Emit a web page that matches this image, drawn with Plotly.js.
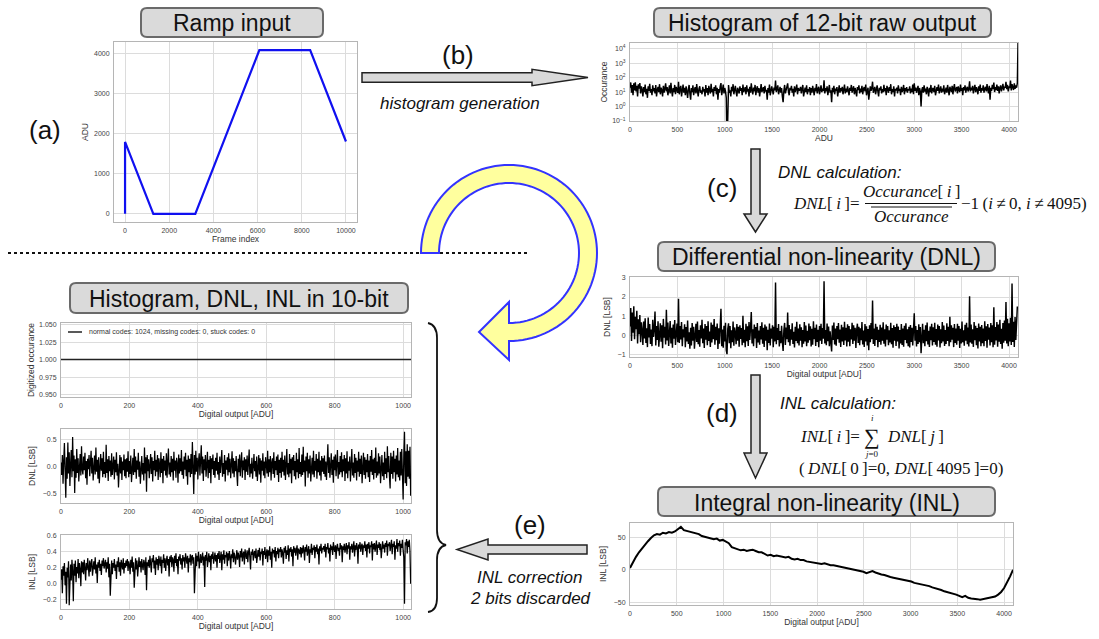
<!DOCTYPE html>
<html>
<head>
<meta charset="utf-8">
<script src="https://cdn.plot.ly/plotly-3.0.1.min.js"></script>
<style>
  html, body { margin: 0; padding: 0; background: #fff; }
  #fig { width: 1099px; height: 639px; }
</style>
</head>
<body>
<div id="fig"></div>
<script>
const W = 1099, H = 639;

// ---- (a) ramp input: frame index -> ADU (corner points of the ramp)
const rampFrames = [0, 0, 1280, 3180, 6080, 8380, 10000];
const rampADU    = [0, 1800, 0, 0, 4095, 4095, 1810];

// ---- (b) histogram of 12-bit raw output, one count every HIST12_STEP codes
const HIST12_STEP = 8;
const hist12Counts = [
  20,46,9,31,6,40,13,48,11,27,5,35,17,42,8,25,
  14,5,22,10,33,7,17,4,25,12,37,9,16,6,29,11,
  19,8,31,5,14,23,10,35,7,20,13,5,27,9,17,40,
  11,22,6,16,29,8,44,12,5,19,10,31,7,23,14,9,
  52,7,17,27,5,13,33,9,20,6,25,11,4,16,31,8,
  3,19,10,29,6,14,22,8,35,12,5,17,25,9,13,7,
  23,11,16,5,31,9,19,6,27,13,8,37,10,17,5,22,
  12,29,7,20,3,16,9,25,42,6,14,33,8,19,11,4,
  0,17,31,9,13,5,23,11,35,7,16,27,10,5,20,14,
  8,25,12,19,6,33,10,14,22,7,29,11,17,5,23,9,
  40,13,7,20,11,31,6,16,25,9,19,5,13,35,10,17,
  22,8,27,11,14,3,19,9,33,6,16,25,12,7,20,13,
  63,10,17,29,7,14,23,9,19,5,2,12,31,8,16,22,
  40,11,6,20,13,27,9,17,5,25,10,16,33,7,19,12,
  14,23,8,17,31,5,13,20,10,29,7,16,11,22,6,19,
  9,27,13,6,20,11,35,8,16,23,7,14,29,10,17,12,
  66,8,19,11,25,6,16,31,9,13,2,20,10,27,7,17,
  12,22,5,16,29,9,19,11,23,7,14,33,8,17,10,25,
  13,6,20,12,31,9,16,25,7,19,11,5,22,14,29,8,
  17,10,27,7,16,22,11,33,6,13,20,3,9,25,12,19,
  52,9,14,23,7,17,29,11,5,20,13,25,8,16,10,31,
  11,19,6,27,14,9,22,12,35,7,16,10,25,5,17,13,
  20,8,29,12,17,6,23,10,14,31,7,19,11,22,9,16,
  13,25,8,17,10,33,7,40,12,20,9,16,27,6,19,11,
  1,14,22,9,29,11,17,7,23,13,5,20,10,31,8,16,
  19,10,27,6,16,22,12,33,8,14,25,9,17,11,29,7,
  12,20,9,31,13,6,23,16,10,27,7,19,35,11,14,22,
  8,25,14,10,33,12,19,6,22,13,29,9,17,23,11,16,
  55,11,20,13,27,8,17,31,10,22,14,7,25,12,33,9,
  19,13,29,9,17,23,11,35,14,8,27,3,20,12,31,16,
  45,10,22,14,33,12,25,8,19,29,11,17,37,13,23,20,
  50,16,31,11,25,19,62,13,35,22,14,40,17,29,20,42
];
const hist12TopCode  = 4095;   // saturated code
const hist12TopCount = 26000;

// ---- (c) DNL of the 12-bit output [LSB], one value every DNL12_STEP codes
const DNL12_STEP = 8;
const dnl12 = [
  .45,1.42,-.31,1.18,.12,1.51,-.22,.96,.31,1.28,-.44,.83,.05,1.05,-.38,.67,
  .24,-.52,.71,-.18,.88,-.41,.36,-.63,.92,-.12,.58,-.47,.29,-.58,.81,-.09,
  .34,1.24,-.55,.47,-.26,.73,-.61,.18,.62,-.35,.51,-.69,.85,-.14,.43,-.49,
  1.33,-.28,.66,-.57,.21,.74,-.44,.39,-.66,.55,-.19,.79,-.52,.27,.61,-.37,
  1.91,-.41,.48,-.23,.69,-.58,.31,-.12,.57,-.64,.42,-.33,.76,-.47,.15,-.71,
  .38,-.55,.63,-.29,.44,-.72,.22,.59,-.36,.71,-.48,.26,-.61,.52,-.18,.81,
  -.43,.35,-.67,.58,-.24,.47,-.53,.73,-.31,.19,-.62,.66,-.39,.54,-.21,.84,
  -.5,.43,-.27,.61,-.73,.36,-.45,.57,1.38,-.58,.29,-.66,.49,-.34,.65,-.81,
  -1,.33,.62,-.42,.47,-.69,.25,-.37,.71,-.56,.4,.13,-.48,.58,-.29,.44,
  -.61,.52,-.2,.37,-.53,1.02,-.4,.28,-.64,.59,-.32,.46,-.57,.69,-.26,.35,
  1.21,-.44,.31,-.59,.55,-.17,.42,-.68,.63,-.38,.24,-.51,.48,-.23,.67,-.45,
  .39,-.62,.56,-.3,.45,-.79,.28,-.41,.61,-.55,.34,-.19,.52,-.64,.43,-.33,
  2.76,-.48,.37,-.26,.58,-.6,.21,-.43,.49,-.35,-.83,.27,.64,-.52,.4,-.21,
  1.19,-.37,.53,-.56,.3,-.24,.62,-.47,.18,-.65,.44,-.31,.7,-.42,.35,-.54,
  .57,-.29,.41,-.63,.26,-.45,.68,-.34,.5,-.58,.22,-.4,.61,-.27,.46,-.6,
  .33,-.51,.72,-.22,.39,-.57,.55,-.36,.28,-.64,.47,-.3,.59,-.46,.37,-.19,
  2.83,-.44,.26,-.53,.61,-.32,.45,-.59,.2,-.38,-.86,.5,-.25,.66,-.49,.34,
  -.56,.47,-.21,.63,-.4,.29,-.62,.54,-.33,.41,-.52,.7,-.28,.38,-.6,.57,
  -.35,.48,-.58,.31,-.23,.64,-.46,.52,-.3,.39,-.67,.27,.6,-.41,.44,-.53,
  .36,-.27,.69,-.49,.24,-.62,.58,-.34,.46,-.55,.32,-.8,.51,-.38,.63,-.22,
  1.82,-.47,.35,-.57,.6,-.26,.43,-.64,.28,-.36,.54,-.51,.4,-.3,.67,-.45,
  .31,-.6,.56,-.24,.47,-.53,.25,-.39,.65,-.48,.37,-.66,.52,-.29,.42,-.57,
  .6,-.33,.45,-.7,.27,-.44,.58,-.52,.34,-.61,.49,-.25,.62,-.42,.3,-.58,
  .44,-.65,.53,-.36,.39,-.55,.71,1.14,-.3,.48,-.6,.26,-.47,.57,-.38,.42,
  -.95,.36,.59,-.43,.28,-.58,.51,-.32,.66,-.49,.23,-.62,.45,-.27,.6,-.54,
  .41,-.36,.64,-.5,.32,-.61,.55,-.28,.47,-.65,.3,-.42,.68,-.33,.5,-.57,
  .27,-.46,.62,-.31,.43,-.59,.96,-.37,.52,-.24,.39,-.63,.58,-.41,.35,-.5,
  .6,-.29,.47,-.67,.33,-.44,.71,-.38,.25,-.56,.54,-.3,.65,-.48,.4,-.6,
  2.04,-.39,.56,-.45,.3,-.62,.68,-.27,.49,-.53,.37,-.7,.61,-.34,.44,-.58,
  .53,-.42,.35,-.59,.72,-.31,.46,-.66,.58,-.24,.4,-.55,.63,-.37,.51,-.64,
  1.46,-.5,.42,-.28,.69,-.61,.55,-.35,.8,-.47,.33,-.72,.64,-.4,.77,-.3,
  1.74,-.44,.86,-.58,.62,-.33,.91,-.52,2.71,-.36,.7,-.62,.95,-.25,.58,1.5
];

// ---- (d) INL of the 12-bit output [LSB], one value every INL12_STEP codes
const INL12_STEP = 32;
const inl12 = [
  3,12,20,27,33,38,44,49,53,55,54,57,56,58,57,59,
  63,66,61,60,59,57,56,55,52,51,50,49,47,48,45,46,
  44,41,35,33,32,30,31,29,30,31,29,27,27,24,22,23,
  21,22,21,20,19,20,17,16,17,15,15,13,12,11,11,10,
  9,10,8,7,7,6,5,4,3,3,1,0,-1,-2,-3,-5,
  -4,-2,-4,-6,-7,-8,-10,-11,-12,-13,-14,-14,-16,-17,-18,-20,
  -21,-21,-22,-24,-25,-27,-28,-30,-31,-33,-34,-36,-37,-38,-40,-42,
  -40,-43,-44,-44,-45,-46,-45,-45,-44,-43,-41,-38,-34,-28,-20,-10
];
const inl12LastCode = 4095, inl12LastValue = 0;

// ---- (e) 10-bit result after INL correction
const normalCodes = 1024, missingCodes = 0, stuckCodes = 0;
const digitizedOccurance = 1;   // every 10-bit code hit exactly once

const DNL10_STEP = 2;
const dnl10 = [
  .08,-.15,.22,-.31,.12,.44,-.09,-.57,.18,-.22,.45,-.12,.27,-.35,.06,.31,-.19,.55,-.08,.21,-.48,.14,-.2,.33,-.11,.16,-.27,.09,.24,-.16,.38,-.05,
  -.14,.19,-.06,.26,-.21,.11,-.33,.15,-.04,.22,-.17,.08,.3,-.12,.17,-.25,.05,.21,-.14,.36,-.09,.13,-.22,.18,-.3,.1,.24,-.07,.16,-.19,.28,-.13,
  .09,-.2,.41,-.11,.14,-.26,.2,-.08,.12,-.18,.25,-.15,.07,.19,-.23,.13,-.1,.27,-.16,.06,-.38,.15,.22,-.12,.18,-.24,.1,-.06,.23,-.17,.14,-.21,
  .16,-.09,.29,-.19,.11,-.13,.21,-.28,.08,.17,-.15,.33,-.1,.19,-.22,.12,-.05,.26,-.18,.1,-.31,.15,.2,-.14,.07,-.25,.36,-.12,.18,-.46,.22,-.08,
  .14,-.21,.09,.24,-.13,.18,-.27,.11,-.06,.3,-.17,.13,-.09,.22,-.24,.16,.05,-.19,.27,-.11,.15,-.3,.2,-.07,.12,-.16,.25,-.2,.1,.34,-.14,.08,
  -.18,.2,-.1,.15,-.25,.28,-.07,.12,-.2,.17,.06,-.29,.23,-.12,.16,-.08,.31,-.15,.1,-.22,.19,-.05,.26,-.17,.13,-.33,.21,-.1,.15,-.19,.24,-.13,
  .46,.12,-.5,.22,-.14,.3,-.09,.17,-.23,.11,.25,-.16,.08,.4,-.12,.19,-.26,.14,-.06,.22,-.18,.1,.28,-.21,.13,-.11,.2,-.3,.16,-.04,.23,-.15,
  .11,-.2,.17,-.07,.26,-.14,.09,-.24,.19,-.11,.14,.31,-.18,.07,-.13,.22,-.27,.12,-.05,.18,-.16,.25,-.1,.15,-.21,.09,.29,-.12,.16,-.19,.11,-.08,
  .2,-.13,-.35,.15,-.1,.23,-.17,.08,.27,-.2,.12,-.06,.18,-.24,.14,-.09,.21,-.15,.1,.32,-.19,.06,-.12,.17,-.22,.13,.24,-.08,.11,-.18,.19,-.26,
  .09,.22,-.14,.16,-.29,.12,-.07,.25,-.16,.1,-.21,.18,.05,-.12,.3,-.18,.14,-.1,.2,-.25,.08,.16,-.13,.27,-.2,.11,-.06,.19,-.15,.23,-.28,.13,
  -.11,.17,-.2,.28,-.09,.13,-.16,.21,-.24,.1,.33,-.14,.07,-.19,.24,-.12,.15,-.3,.18,-.06,.22,-.17,.11,-.23,.26,-.1,.14,-.21,.35,-.13,.09,-.18,
  .23,-.15,.37,-.1,.12,-.36,.19,-.08,.26,-.2,.14,-.12,.21,-.27,.09,.17,-.14,.3,-.19,.11,-.07,.24,-.22,.15,-.1,.28,-.16,.12,-.25,.2,-.09,.16,
  -.13,.21,-.18,.1,-.24,.15,.42,-.11,.18,-.2,.08,.25,-.15,.13,-.29,.19,-.06,.23,-.17,.12,.31,-.22,.09,-.14,.2,-.1,.27,-.19,.14,-.08,.22,-.26,
  .16,-.12,.29,-.21,.1,-.07,.19,-.27,.14,.33,-.16,.08,-.2,.24,-.11,.17,-.25,.12,-.09,.28,-.18,.15,-.13,.21,-.3,.11,.26,-.15,.18,-.22,.13,-.1,
  .24,-.19,.12,-.28,.2,-.09,.31,-.15,.14,-.23,.17,-.11,.36,-.2,.1,-.16,.25,-.12,.19,-.3,.13,.22,-.17,.08,-.24,.28,-.13,.16,-.21,.38,-.1,.2,
  -.17,-.4,.26,-.13,.19,-.22,.3,-.1,.15,-.27,.21,-.14,.35,-.19,.12,-.25,.28,-.16,.33,-.2,-.6,.24,.65,-.3,.29,-.35,.42,-.18,.3,-.22,.37,-.53
];

const INL10_STEP = 2;
const inl10 = [
  .05,.18,-.12,.22,.1,.26,-.02,.15,-.25,.2,.08,.28,-.27,.12,.24,.04,.3,.16,-.22,.25,.1,.29,.02,.21,.13,.31,.07,.26,.18,-.03,.28,.14,
  .27,.12,.3,.2,.04,.26,.17,.32,.22,.09,.29,.15,.25,.31,.1,.23,.28,.18,.33,.13,.24,.01,.27,.2,.3,.16,.25,.11,.29,.22,.32,.19,
  .24,.3,.14,.27,.19,.33,.08,.25,-.15,.22,.29,.12,.26,.2,.31,.16,.24,.06,.28,.21,.33,.15,.27,.1,.3,.23,.18,.32,.13,.26,.2,.29,
  .22,.31,.16,.28,.24,.12,.3,.2,.34,.15,.27,-.05,.25,.32,.18,.29,.09,.26,.33,.21,.28,.14,.31,.23,.17,.3,.26,.11,.33,-.08,.27,.22,
  .3,.2,.35,.25,.14,.32,.27,.36,.19,.29,.11,.33,.24,.31,.17,.35,.28,.22,.34,.13,.3,.26,.37,.2,.32,.16,.29,.35,.23,.31,.09,.34,
  .27,.36,.21,.33,.3,.15,.35,.26,.38,.22,.31,.12,.34,.29,.37,.24,.32,.18,.36,.28,.33,.2,.38,.3,.25,.35,.14,.32,.27,.37,.23,.34,
  .36,.25,.33,-.12,.3,.38,.22,.35,.28,.4,.19,.33,.37,.26,.31,.39,.23,.34,-.04,.36,.29,.4,.21,.33,.38,.27,.35,.17,.37,.31,.4,.25,
  .34,.39,.28,.36,.2,.38,.31,.41,.26,.35,.4,.17,.37,.3,.42,.25,.36,.33,.4,.22,.38,.29,.41,.34,.19,.37,.32,.43,.27,.39,.35,.24,
  .38,.42,.3,.39,.35,.21,.41,.33,.44,.28,.37,.4,.24,.43,.36,.31,.42,.27,.39,.45,.33,.18,.4,.36,.43,.29,.38,.41,.32,.44,.26,.39,
  .42,.34,.45,.29,.4,.37,.44,.23,.41,.36,.46,.31,.39,.43,.27,.42,.35,.47,.3,.4,.2,.44,.38,.42,.33,.46,.28,.41,.37,.45,.32,.43,
  .4,.46,.33,.43,.38,.25,.45,.39,.47,.31,.42,.36,.48,.28,.44,.4,.46,.34,.43,.22,.47,.39,.45,.35,.42,.48,.3,.44,.41,.37,.46,.33,
  .45,.38,.48,.42,.29,.46,.4,.49,.35,.44,.47,.26,.43,.39,.5,.36,.45,.42,.48,.32,.46,.4,.49,.37,.44,.24,.47,.41,.5,.38,.45,.43,
  .47,.4,.5,.33,.46,.43,.51,.38,.45,.28,.49,.42,.47,.36,.52,.44,.4,.48,.31,.46,.5,.41,.45,.35,.51,.43,.48,.27,.47,.42,.5,.39,
  .46,.51,.37,.48,.44,.52,.3,.47,.43,.5,.39,.45,.53,.34,.48,.42,.51,.46,.25,.49,.44,.52,.4,.47,.5,.36,.48,.45,.53,.41,.49,.33,
  .5,.44,.52,.38,.48,.46,.53,.29,.5,.43,.51,.4,.47,.54,.36,.49,.45,.52,.42,.5,.32,.48,.53,.44,.49,.39,.51,.46,.54,.35,.5,.47,
  .52,.41,.49,.55,.37,.5,.46,.53,.3,.48,.44,.56,.4,.51,.47,.54,.35,.5,.45,.55,.42,.33,-.25,.52,.48,.56,.38,.53,.46,.55,.41,0
];

// ---------------------------------------------------------------- helpers
const fx = x => x / W;            // figure pixel -> paper
const fy = y => 1 - y / H;
const codesFor = (arr, step) => arr.map((_, i) => i * step);
const FONT = 'Liberation Sans, Arial, sans-serif';
const SERIF = 'Liberation Serif, Times New Roman, serif';

function axis(x0, x1, range, anchor, extra) {
  return Object.assign({
    domain: [fx(x0), fx(x1)], range: range, anchor: anchor,
    showline: true, mirror: true, linecolor: '#b5b5b5', linewidth: 1,
    showgrid: true, gridcolor: '#dcdcdc', gridwidth: 1,
    zeroline: false, ticks: '', ticklabelstandoff: 2,
    tickfont: { size: 7, color: '#444', family: FONT },
    fixedrange: true
  }, extra || {});
}
function yaxis(y0, y1, range, anchor, extra) {
  const a = axis(0, 1, range, anchor, extra);
  a.domain = [fy(y1), fy(y0)];
  return a;
}
const axTitle = (text, standoff) => ({ text: text, standoff: standoff, font: { size: 8.5, color: '#333', family: FONT } });

// ---------------------------------------------------------------- traces
// zero counts sit on the floor of the log axis (drawn clipped, not dropped)
const LOG_FLOOR = 1e-3;
const hist12X = codesFor(hist12Counts, HIST12_STEP).concat([hist12TopCode]);
const hist12Y = hist12Counts.concat([hist12TopCount]).map(v => v > 0 ? v : LOG_FLOOR);

const inl12X = codesFor(inl12, INL12_STEP).concat([inl12LastCode]);
const inl12Y = inl12.concat([inl12LastValue]);

const codes10 = Array.from({ length: normalCodes + missingCodes + stuckCodes }, (_, i) => i);
const occ10 = codes10.map(() => digitizedOccurance);
const occ10Line = { color: '#222', width: 1.5 };

const dense = { color: '#000', width: 1.45 };
const noisy = { color: '#000', width: 1.25 };
const data = [
  { type: 'scatter', mode: 'lines', x: rampFrames, y: rampADU, xaxis: 'x', yaxis: 'y',
    line: { color: '#1010f0', width: 2.2 }, hoverinfo: 'skip' },
  { type: 'scatter', mode: 'lines', x: hist12X, y: hist12Y, xaxis: 'x2', yaxis: 'y2',
    line: dense, hoverinfo: 'skip' },
  { type: 'scatter', mode: 'lines', x: codesFor(dnl12, DNL12_STEP), y: dnl12, xaxis: 'x3', yaxis: 'y3',
    line: dense, hoverinfo: 'skip' },
  { type: 'scatter', mode: 'lines', x: inl12X, y: inl12Y, xaxis: 'x4', yaxis: 'y4',
    line: { color: '#000', width: 2 }, hoverinfo: 'skip' },
  { type: 'scatter', mode: 'lines', x: codes10, y: occ10, xaxis: 'x5', yaxis: 'y5',
    line: occ10Line, hoverinfo: 'skip' },
  { type: 'scatter', mode: 'lines', x: codesFor(dnl10, DNL10_STEP), y: dnl10, xaxis: 'x6', yaxis: 'y6',
    line: noisy, hoverinfo: 'skip' },
  { type: 'scatter', mode: 'lines', x: codesFor(inl10, INL10_STEP), y: inl10, xaxis: 'x7', yaxis: 'y7',
    line: noisy, hoverinfo: 'skip' }
];

// ---------------------------------------------------------------- axes
const ticks12 = [0,500,1000,1500,2000,2500,3000,3500,4000];
const ticks10 = [0,200,400,600,800,1000];
const layout = {
  width: W, height: H, autosize: false, showlegend: false,
  margin: { l: 0, r: 0, t: 0, b: 0 },
  paper_bgcolor: '#fff', plot_bgcolor: '#fff',
  font: { family: FONT, color: '#222' },

  xaxis:  axis(114, 357, [-500, 10500], 'y', { tickvals: [0,2000,4000,6000,8000,10000], tickformat: 'd', title: axTitle('Frame index', 2) }),
  yaxis:  yaxis(42, 222, [-205, 4300], 'x', { tickvals: [0,1000,2000,3000,4000], tickformat: 'd', title: axTitle('ADU', 4) }),

  xaxis2: axis(630, 1018, [0, 4095], 'y2', { tickvals: ticks12, tickformat: 'd', title: axTitle('ADU', 1) }),
  yaxis2: yaxis(43, 121, [-1, 4.39], 'x2', { type: 'log',
            tickvals: [0.1, 1, 10, 100, 1000, 10000],
            ticktext: ['10<sup>\u22121</sup>','10<sup>0</sup>','10<sup>1</sup>','10<sup>2</sup>','10<sup>3</sup>','10<sup>4</sup>'],
            title: axTitle('Occurance', 3) }),

  xaxis3: axis(630, 1018, [0, 4095], 'y3', { tickvals: ticks12, tickformat: 'd', title: axTitle('Digital output [ADU]', 1) }),
  yaxis3: yaxis(277, 357, [-1.15, 3.05], 'x3', { tickvals: [-1,0,1,2,3], title: axTitle('DNL [LSB]', 5) }),

  xaxis4: axis(630, 1013, [0, 4095], 'y4', { tickvals: ticks12, tickformat: 'd', title: axTitle('Digital output [ADU]', 1) }),
  yaxis4: yaxis(523, 605, [-54, 72], 'x4', { tickvals: [-50,0,50], title: axTitle('INL [LSB]', 5) }),

  xaxis5: axis(61, 411, [0, 1023], 'y5', { tickvals: ticks10, title: axTitle('Digital output [ADU]', 1) }),
  yaxis5: yaxis(323, 397, [0.9466, 1.0523], 'x5', { tickvals: [0.95,0.975,1,1.025,1.05], tickformat: '.3f', title: axTitle('Digitized occurance', 3) }),

  xaxis6: axis(61, 411, [0, 1023], 'y6', { tickvals: ticks10, title: axTitle('Digital output [ADU]', 1) }),
  yaxis6: yaxis(429, 503, [-0.666, 0.70], 'x6', { tickvals: [-0.5,0,0.5], tickformat: '.1f', title: axTitle('DNL [LSB]', 5) }),

  xaxis7: axis(61, 411, [0, 1023], 'y7', { tickvals: ticks10, title: axTitle('Digital output [ADU]', 1) }),
  yaxis7: yaxis(535, 609, [-0.316, 0.61], 'x7', { tickvals: [-0.2,0,0.2,0.4,0.6], tickformat: '.1f', title: axTitle('INL [LSB]', 5) }),

  shapes: [], annotations: []
};

// ---------------------------------------------------------------- drawing helpers
const pathOf = pts => pts.map((p, i) => (i ? 'L' : 'M') + fx(p[0]) + ',' + fy(p[1])).join(' ') + ' Z';

function roundRect(x0, y0, x1, y1, r) {
  const P = (x, y) => fx(x) + ',' + fy(y);
  return `M${P(x0+r,y0)} L${P(x1-r,y0)} Q${P(x1,y0)} ${P(x1,y0+r)} L${P(x1,y1-r)} Q${P(x1,y1)} ${P(x1-r,y1)} ` +
         `L${P(x0+r,y1)} Q${P(x0,y1)} ${P(x0,y1-r)} L${P(x0,y0+r)} Q${P(x0,y0)} ${P(x0+r,y0)} Z`;
}

function titleBox(text, x0, y0, x1, y1) {
  layout.shapes.push({ type: 'path', xref: 'paper', yref: 'paper', path: roundRect(x0, y0, x1, y1, 6),
    fillcolor: '#dadada', line: { color: '#6a6a6a', width: 2 } });
  layout.annotations.push({ xref: 'paper', yref: 'paper', x: fx((x0 + x1) / 2), y: fy((y0 + y1) / 2 + 1),
    text: text, showarrow: false, xanchor: 'center', yanchor: 'middle',
    font: { size: 23, color: '#111', family: FONT } });
}

function label(text, x, y, opts) {
  layout.annotations.push(Object.assign({ xref: 'paper', yref: 'paper', x: fx(x), y: fy(y), text: text,
    showarrow: false, xanchor: 'center', yanchor: 'middle', font: { size: 17, color: '#111', family: FONT } }, opts || {}));
}

const arrowStyle = { fillcolor: '#d9d9d9', line: { color: '#222', width: 1.5 } };
function blockArrow(pts) {
  layout.shapes.push(Object.assign({ type: 'path', xref: 'paper', yref: 'paper', path: pathOf(pts) }, arrowStyle));
}

// ---------------------------------------------------------------- key of the 10-bit histogram (short line + text)
layout.shapes.push({ type: 'line', xref: 'paper', yref: 'paper', x0: fx(68), x1: fx(82), y0: fy(332), y1: fy(332), line: occ10Line });
label(`normal codes: ${normalCodes}, missing codes: ${missingCodes}, stuck codes: ${stuckCodes}`, 87, 332,
      { xanchor: 'left', font: { size: 7, color: '#333', family: FONT } });

// ---------------------------------------------------------------- panel titles
titleBox('Ramp input', 141, 8, 323, 37);
titleBox('Histogram of 12-bit raw output', 654, 8, 991, 37);
titleBox('Differential non-linearity (DNL)', 658, 242, 995, 271);
titleBox('Integral non-linearity (INL)', 658, 487, 995, 516);
titleBox('Histogram, DNL, INL in 10-bit', 70, 283, 408, 313);

// ---------------------------------------------------------------- step arrows
blockArrow([[362,72.7],[532,72.7],[532,69.3],[588,77.5],[532,85.7],[532,82.3],[362,82.3]]);     // (b)
blockArrow([[751,149],[760,149],[760,214],[767,214],[755.5,232],[744,214],[751,214]]);           // (c)
blockArrow([[751,375],[760,375],[760,453],[767,453],[755.5,478],[744,453],[751,453]]);           // (d)
blockArrow([[587,545],[488,545],[488,539],[457,549.5],[488,560],[488,554],[587,554]]);           // (e)

const big = { size: 26, color: '#111', family: FONT };
label('(a)', 45, 130, { font: big });
label('(b)', 458, 55, { font: big });
label('(c)', 722, 188, { font: big });
label('(d)', 722, 413, { font: big });
label('(e)', 530, 525, { font: big });

label('<i>histogram generation</i>', 460, 103);
label('<i>DNL calculation:</i>', 776, 172, { xanchor: 'left' });
label('<i>INL calculation:</i>', 778, 403, { xanchor: 'left' });
label('<i>INL correction</i>', 530, 577);
label('<i>2 bits discarded</i>', 530, 598);

// ---------------------------------------------------------------- formulas
const th = '\u2009';
const mf = { size: 17, color: '#111', family: SERIF };
const mfs = { size: 9, color: '#111', family: SERIF };
label(`<i>DNL</i>[${th}<i>i</i>${th}]=`, 862, 204, { xanchor: 'right', font: mf });
label(`<i>Occurance</i>[${th}<i>i</i>${th}]`, 911, 191, { font: mf });
label('<i>Occurance</i>', 911, 216, { font: mf });
label(`\u22121${th}(<i>i</i>${th}\u2260${th}0, <i>i</i>${th}\u2260${th}4095)`, 959, 204, { xanchor: 'left', font: mf });
layout.shapes.push({ type: 'line', xref: 'paper', yref: 'paper', x0: fx(865), x1: fx(957), y0: fy(203.5), y1: fy(203.5), line: { color: '#111', width: 1.2 } });
layout.shapes.push({ type: 'line', xref: 'paper', yref: 'paper', x0: fx(871), x1: fx(952), y0: fy(207), y1: fy(207), line: { color: '#111', width: 1 } });

label(`<i>INL</i>[${th}<i>i</i>${th}]=`, 862, 436, { xanchor: 'right', font: mf });
label('\u2211', 872, 436, { font: { size: 22, color: '#111', family: SERIF } });
label('<i>i</i>', 872, 418, { font: mfs });
label('<i>j</i>=0', 872, 454, { font: mfs });
label(`<i>DNL</i>[${th}<i>j</i>${th}]`, 885, 436, { xanchor: 'left', font: mf });
label(`(${th}<i>DNL</i>[${th}0${th}]=0, <i>DNL</i>[${th}4095${th}]=0)`, 797, 468, { xanchor: 'left', font: mf });

// ---------------------------------------------------------------- separator and loop-back arrow
layout.shapes.push({ type: 'line', xref: 'paper', yref: 'paper', x0: fx(8), x1: fx(530), y0: fy(253), y1: fy(253),
  line: { color: '#111', width: 2, dash: 'dot' } });

(function loopArrow() {
  const cx = 509, cy = 253, R = 88, r = 70, pts = [];
  for (let a = 180; a >= -90; a -= 3) {
    const t = a * Math.PI / 180; pts.push([cx + R * Math.cos(t), cy - R * Math.sin(t)]);
  }
  pts.push([cx, 360], [479, 332], [cx, 302]);
  for (let a = -90; a <= 180; a += 3) {
    const t = a * Math.PI / 180; pts.push([cx + r * Math.cos(t), cy - r * Math.sin(t)]);
  }
  layout.shapes.push({ type: 'path', xref: 'paper', yref: 'paper', path: pathOf(pts),
    fillcolor: '#ffff9e', line: { color: '#3333ff', width: 2 } });
})();

// ---------------------------------------------------------------- brace grouping the 10-bit panels
(function brace() {
  const P = (x, y) => fx(x) + ',' + fy(y);
  const path = `M${P(428,323)} Q${P(437,325)} ${P(437,338)} L${P(437,530)} Q${P(437,543)} ${P(446,545)} ` +
               `Q${P(437,547)} ${P(437,560)} L${P(437,598)} Q${P(437,611)} ${P(428,612)}`;
  layout.shapes.push({ type: 'path', xref: 'paper', yref: 'paper', path: path, line: { color: '#111', width: 1.8 } });
})();

Plotly.newPlot('fig', data, layout, { staticPlot: true, displayModeBar: false });
</script>
</body>
</html>
